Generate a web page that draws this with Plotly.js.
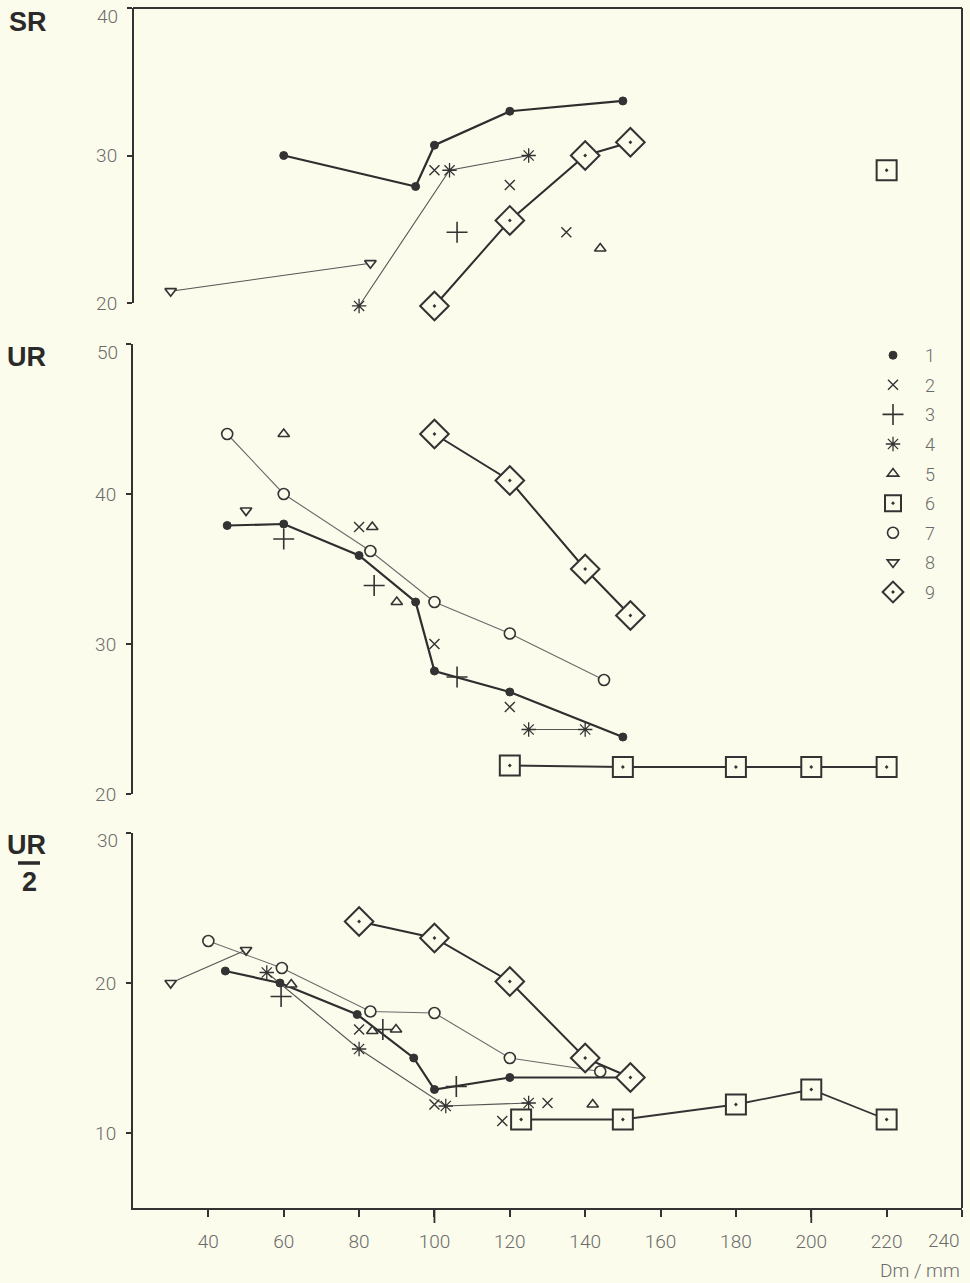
<!DOCTYPE html>
<html>
<head>
<meta charset="utf-8">
<script src="https://cdn.plot.ly/plotly-3.0.1.min.js"></script>
<style>html,body{margin:0;padding:0;background:#fbfcec;}</style>
</head>
<body>
<div id="chart" style="width:970px;height:1283px;"></div>
<script>
// ---------- data ----------
const seriesNames = ["1", "2", "3", "4", "5", "6", "7", "8", "9"];
const xTickVals = [40, 60, 80, 100, 120, 140, 160, 180, 200, 220, 240];
const xTickText = ["40", "60", "80", "100", "120", "140", "160", "180", "200", "220", ""];
const srTickVals = [20, 30, 40];       const srTickText = ["20", "30", ""];
const urTickVals = [20, 30, 40, 50];   const urTickText = ["20", "30", "40", ""];
const hTickVals = [10, 20, 30];        const hTickText = ["10", "20", ""];
const topTickLabels = ["40", "50", "30"];
const panelLabels = ["SR", "UR", "UR", "2"];
const xAxisLabel = "Dm / mm";

// Panel SR
const sr_x1 = [60, 95, 100, 120, 150];          const sr_y1 = [30, 27.9, 30.7, 33, 33.7];
const sr_x2 = [100, 120, 135];                  const sr_y2 = [29, 28, 24.8];
const sr_x3 = [106];                            const sr_y3 = [24.8];
const sr_x4 = [80, 104, 125];                   const sr_y4 = [19.8, 29, 30];
const sr_x5 = [144];                            const sr_y5 = [23.7];
const sr_x6 = [220];                            const sr_y6 = [29];
const sr_x7 = [];                               const sr_y7 = [];
const sr_x8 = [30, 83];                         const sr_y8 = [20.8, 22.7];
const sr_x9 = [100, 120, 140, 152];             const sr_y9 = [19.8, 25.6, 30, 30.9];

// Panel UR
const ur_x1 = [45, 60, 80, 95, 100, 120, 150];  const ur_y1 = [37.9, 38, 35.9, 32.8, 28.2, 26.8, 23.8];
const ur_x2 = [80, 100, 120];                   const ur_y2 = [37.8, 30, 25.8];
const ur_x3 = [60, 84, 106];                    const ur_y3 = [37, 33.9, 27.8];
const ur_x4 = [125, 140];                       const ur_y4 = [24.3, 24.3];
const ur_x5 = [60, 83.5, 90];                   const ur_y5 = [44, 37.8, 32.8];
const ur_x6 = [120, 150, 180, 200, 220];        const ur_y6 = [21.9, 21.8, 21.8, 21.8, 21.8];
const ur_x7 = [45, 60, 83, 100, 120, 145];      const ur_y7 = [44, 40, 36.2, 32.8, 30.7, 27.6];
const ur_x8 = [50];                             const ur_y8 = [38.9];
const ur_x9 = [100, 120, 140, 152];             const ur_y9 = [44, 40.9, 35, 31.9];

// Panel UR/2
const h_x1 = [44.5, 59, 79.5, 94.5, 100, 120, 150]; const h_y1 = [20.8, 20, 17.9, 15, 12.9, 13.7, 13.7];
const h_x2 = [80, 100, 118, 130];               const h_y2 = [16.9, 11.9, 10.8, 12];
const h_x3 = [59.3, 86.3, 105.8];               const h_y3 = [19.1, 16.9, 13.1];
const h_x4 = [55.5, 80, 103, 125];              const h_y4 = [20.7, 15.6, 11.8, 12];
const h_x5 = [62, 83.5, 89.8, 142];             const h_y5 = [19.9, 16.8, 16.9, 11.9];
const h_x6 = [123, 150, 180, 200, 220];         const h_y6 = [10.9, 10.9, 11.9, 12.9, 10.9];
const h_x7 = [40, 59.5, 83, 100, 120, 144];     const h_y7 = [22.8, 21, 18.1, 18, 15, 14.1];
const h_x8 = [30, 50];                          const h_y8 = [20, 22.2];
const h_x9 = [80, 100, 120, 140, 152];          const h_y9 = [24.1, 23, 20.1, 15, 13.7];

// which series are joined by a line in each panel
const srConnected = ["1", "4", "8", "9"];
const urConnected = ["1", "4", "6", "7", "9"];
const hConnected  = ["1", "4", "6", "7", "8", "9"];

// ---------- styles ----------
const BG = "#fbfcec";
const INK = "#333333";
const markerStyle = {
  "1": {symbol: "circle", size: 8, color: INK, line: {color: INK, width: 1}},
  "2": {symbol: "x-thin-open", size: 10, color: INK, line: {color: INK, width: 1.4}},
  "3": {symbol: "cross-thin-open", size: 15, color: INK, line: {color: INK, width: 1.6}},
  "4": {symbol: "asterisk-open", size: 12, color: INK, line: {color: INK, width: 1.3}},
  "5": {symbol: "triangle-up", size: 10, color: BG, line: {color: INK, width: 1.6}},
  "6": {symbol: "square-dot", size: 20, color: BG, line: {color: INK, width: 2}},
  "7": {symbol: "circle", size: 11, color: BG, line: {color: INK, width: 1.6}},
  "8": {symbol: "triangle-down", size: 10, color: BG, line: {color: INK, width: 1.7}},
  "9": {symbol: "diamond-dot", size: 22, color: BG, line: {color: INK, width: 2}}
};
const lineStyle = {
  "1": {color: "#2e2e2e", width: 2.2},
  "4": {color: "#555555", width: 1.1},
  "6": {color: "#333333", width: 1.8},
  "7": {color: "#6a6a6a", width: 1.1},
  "8": {color: "#555555", width: 1.1},
  "9": {color: "#2e2e2e", width: 2.0}
};

const panels = [
  {axis: "y",  xs: [sr_x1, sr_x2, sr_x3, sr_x4, sr_x5, sr_x6, sr_x7, sr_x8, sr_x9],
               ys: [sr_y1, sr_y2, sr_y3, sr_y4, sr_y5, sr_y6, sr_y7, sr_y8, sr_y9], conn: srConnected},
  {axis: "y2", xs: [ur_x1, ur_x2, ur_x3, ur_x4, ur_x5, ur_x6, ur_x7, ur_x8, ur_x9],
               ys: [ur_y1, ur_y2, ur_y3, ur_y4, ur_y5, ur_y6, ur_y7, ur_y8, ur_y9], conn: urConnected},
  {axis: "y3", xs: [h_x1, h_x2, h_x3, h_x4, h_x5, h_x6, h_x7, h_x8, h_x9],
               ys: [h_y1, h_y2, h_y3, h_y4, h_y5, h_y6, h_y7, h_y8, h_y9], conn: hConnected}
];

const lineTraces = [];
const markerTraces = [];
panels.forEach(function (p, pi) {
  seriesNames.forEach(function (name, si) {
    const xs = p.xs[si], ys = p.ys[si];
    if (!xs.length) return;
    if (p.conn.indexOf(name) >= 0) {
      lineTraces.push({type: "scatter", mode: "lines", x: xs, y: ys, xaxis: "x", yaxis: p.axis,
        line: lineStyle[name], showlegend: false, hoverinfo: "skip", legendgroup: name});
    }
    markerTraces.push({type: "scatter", mode: "markers", x: xs, y: ys, xaxis: "x", yaxis: p.axis,
      name: name, legendgroup: name, marker: markerStyle[name],
      showlegend: pi === 1, cliponaxis: false});
  });
});
const data = lineTraces.concat(markerTraces);

const tickFont = {family: "Roboto, 'Liberation Sans', sans-serif", size: 19, color: "#6b6b6b", weight: 300};
const labelFont = {family: "'Liberation Sans', Arial, sans-serif", size: 27, color: "#2a2a2a", weight: 700};

function yAx(domain, range, vals, text, line) {
  return {domain: domain, range: range, tickvals: vals, ticktext: text, ticks: "outside", ticklen: 5,
    tickwidth: 1.5, tickcolor: INK, showline: line, linecolor: INK, linewidth: 2, showgrid: false,
    zeroline: false, anchor: "x", tickfont: tickFont, ticklabelstandoff: 6, fixedrange: true,
    ticklabeloverflow: "allow"};
}

const PLOT_L = 133, PLOT_T = 6, PLOT_W = 829, PLOT_H = 1202;
function px(x) { return (x - PLOT_L) / PLOT_W; }
function py(y) { return (PLOT_T + PLOT_H - y) / PLOT_H; }

const layout = {
  width: 970, height: 1283,
  margin: {l: 133, r: 8, t: 6, b: 75, pad: 0},
  paper_bgcolor: BG, plot_bgcolor: BG,
  showlegend: true,
  legend: {x: px(861), y: py(337), xanchor: "left", yanchor: "top", bgcolor: "rgba(0,0,0,0)",
    font: {family: "Roboto, 'Liberation Sans', sans-serif", size: 18, color: "#6b6b6b", weight: 300},
    tracegroupgap: 3.2, itemwidth: 54, traceorder: "grouped", itemclick: false, itemdoubleclick: false},
  xaxis: {range: [20, 240], anchor: "y3", tickvals: xTickVals, ticktext: xTickText,
    ticks: "outside", ticklen: 7, tickwidth: 1.5, tickcolor: INK, showline: true, linecolor: INK,
    linewidth: 2, showgrid: false, zeroline: false, tickfont: tickFont, ticklabelstandoff: 8,
    fixedrange: true},
  yaxis: yAx([py(310.4), py(6.53)], [19.5, 40.1], srTickVals, srTickText, false),
  yaxis2: yAx([py(794), py(344)], [20, 50], urTickVals, urTickText, true),
  yaxis3: yAx([0, py(833)], [5, 30], hTickVals, hTickText, true),
  shapes: [
    {type: "line", xref: "paper", yref: "y", x0: 0, x1: 1, y0: 40, y1: 40, line: {color: INK, width: 2}},
    {type: "line", xref: "paper", yref: "y", x0: 0, x1: 0, y0: 20, y1: 40, line: {color: INK, width: 2}},
    {type: "line", xref: "paper", yref: "paper", x0: 1, x1: 1, y0: 0, y1: py(8), line: {color: INK, width: 2}},
    {type: "line", xref: "x", yref: "paper", x0: 100, x1: 100, y0: 0, y1: -15 / PLOT_H, line: {color: INK, width: 1.8}},
    {type: "line", xref: "x", yref: "paper", x0: 200, x1: 200, y0: 0, y1: -15 / PLOT_H, line: {color: INK, width: 1.8}},
    {type: "line", xref: "paper", yref: "paper", x0: px(18), x1: px(40), y0: py(863), y1: py(863), line: {color: "#2a2a2a", width: 3.5}}
  ],
  annotations: [
    {text: panelLabels[0], xref: "paper", yref: "paper", x: px(7), y: py(22), xanchor: "left", yanchor: "middle", showarrow: false, font: labelFont},
    {text: panelLabels[1], xref: "paper", yref: "paper", x: px(5), y: py(357), xanchor: "left", yanchor: "middle", showarrow: false, font: labelFont},
    {text: panelLabels[2], xref: "paper", yref: "paper", x: px(5), y: py(845), xanchor: "left", yanchor: "middle", showarrow: false, font: labelFont},
    {text: panelLabels[3], xref: "paper", yref: "paper", x: px(29), y: py(882), xanchor: "center", yanchor: "middle", showarrow: false, font: labelFont},
    {text: topTickLabels[0], xref: "paper", yref: "paper", x: px(120), y: py(17), xanchor: "right", yanchor: "middle", showarrow: false, font: tickFont},
    {text: topTickLabels[1], xref: "paper", yref: "paper", x: px(120), y: py(353), xanchor: "right", yanchor: "middle", showarrow: false, font: tickFont},
    {text: topTickLabels[2], xref: "paper", yref: "paper", x: px(120), y: py(840), xanchor: "right", yanchor: "middle", showarrow: false, font: tickFont},
    {text: "240", xref: "x", yref: "paper", x: 240, y: py(1240), xanchor: "right", yanchor: "middle", showarrow: false, font: tickFont},
    {text: xAxisLabel, xref: "paper", yref: "paper", x: 1, y: py(1270), xanchor: "right", yanchor: "middle", showarrow: false, font: tickFont}
  ]
};

Plotly.newPlot("chart", data, layout, {displayModeBar: false});
</script>
</body>
</html>
